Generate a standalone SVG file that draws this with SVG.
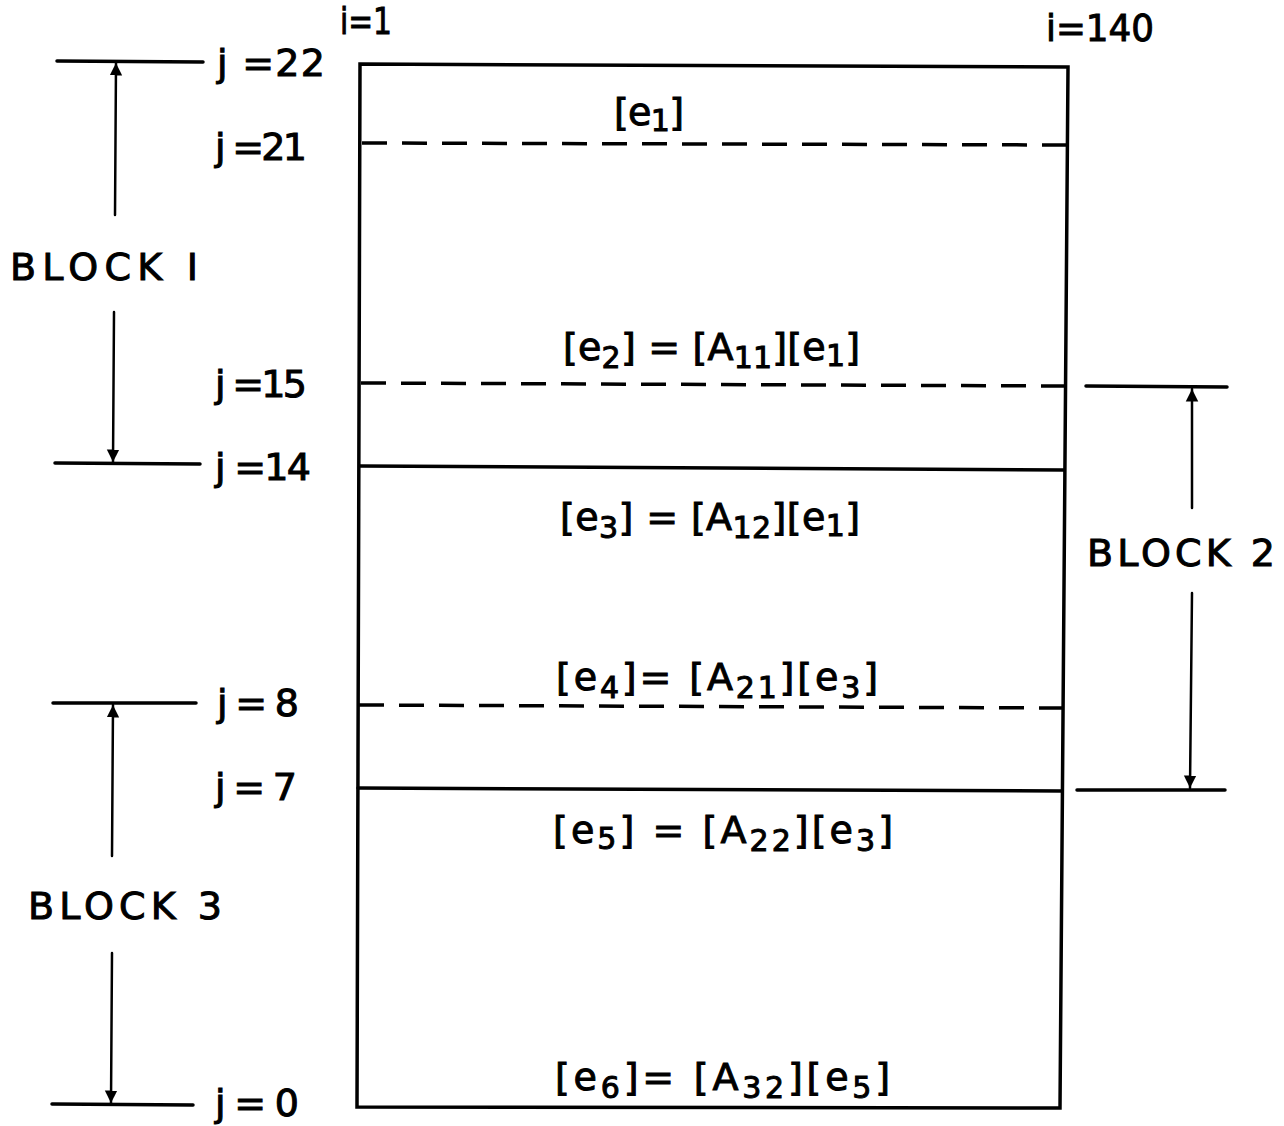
<svg xmlns="http://www.w3.org/2000/svg" width="1284" height="1126" viewBox="0 0 1284 1126">
<defs>
<style>
.t{font-family:"DejaVu Sans","Liberation Sans",sans-serif;font-size:38px;fill:#000;stroke:#000;stroke-width:1}
.f{font-family:"DejaVu Sans","Liberation Sans",sans-serif;font-size:38px;fill:#000;stroke:#000;stroke-width:1}
.s{font-size:30px}
.solid{stroke:#000;stroke-width:3.5;fill:none;stroke-linecap:round}
.thin{stroke:#000;stroke-width:2.5;fill:none;stroke-linecap:round}
.dash{stroke:#000;stroke-width:3.5;fill:none;stroke-dasharray:25 15}
</style>
<marker id="ah" viewBox="0 0 10 10" refX="10" refY="5" markerWidth="5" markerHeight="6" orient="auto-start-reverse" markerUnits="strokeWidth">
<path d="M0,0 L10,5 L0,10 z" fill="#000"/>
</marker>
</defs>
<rect width="1284" height="1126" fill="#fff"/>

<g id="grid">
<path class="solid" d="M360,64 L1068,67 L1060,1108 L357,1107 Z"/>
<line class="dash" x1="362" y1="143" x2="1066" y2="145"/>
<line class="dash" x1="361" y1="383" x2="1064" y2="386"/>
<line class="solid" x1="360" y1="466" x2="1064" y2="470"/>
<line class="dash" x1="359" y1="705" x2="1062" y2="708"/>
<line class="solid" x1="358" y1="788" x2="1062" y2="791"/>
</g>

<g id="ticks">
<line class="solid" x1="57" y1="61" x2="203" y2="62"/>
<line class="solid" x1="55" y1="463" x2="200" y2="464"/>
<line class="solid" x1="53" y1="703" x2="196" y2="703"/>
<line class="solid" x1="52" y1="1104" x2="193" y2="1105"/>
<line class="solid" x1="1086" y1="386" x2="1227" y2="387"/>
<line class="solid" x1="1077" y1="790" x2="1225" y2="790"/>
</g>

<g id="connectors">
<line class="thin" x1="115" y1="215" x2="116" y2="63" marker-end="url(#ah)"/>
<line class="thin" x1="114" y1="312" x2="113" y2="462" marker-end="url(#ah)"/>
<line class="thin" x1="112" y1="856" x2="113" y2="705" marker-end="url(#ah)"/>
<line class="thin" x1="112" y1="953" x2="111" y2="1103" marker-end="url(#ah)"/>
<line class="thin" x1="1192" y1="508" x2="1192" y2="389" marker-end="url(#ah)"/>
<line class="thin" x1="1192" y1="593" x2="1190" y2="788" marker-end="url(#ah)"/>
</g>

<g id="labels">
<text class="t" x="340" y="34" textLength="52" lengthAdjust="spacingAndGlyphs">i=1</text>
<text class="t" x="1046" y="41" textLength="108" lengthAdjust="spacingAndGlyphs">i=140</text>
<text class="t" x="217" y="76" textLength="108" lengthAdjust="spacing">j =22</text>
<text class="t" x="215" y="160" textLength="92" lengthAdjust="spacing">j =21</text>
<text class="t" x="215" y="397" textLength="92" lengthAdjust="spacing">j =15</text>
<text class="t" x="215" y="480" textLength="96" lengthAdjust="spacing">j =14</text>
<text class="t" x="217" y="716" textLength="82" lengthAdjust="spacing">j = 8</text>
<text class="t" x="215" y="800" textLength="82" lengthAdjust="spacing">j = 7</text>
<text class="t" x="215" y="1116" textLength="84" lengthAdjust="spacing">j = 0</text>
<text class="t" x="10" y="280" textLength="188" lengthAdjust="spacing">BLOCK  I</text>
<text class="t" x="28" y="919" textLength="194" lengthAdjust="spacing">BLOCK 3</text>
<text class="t" x="1087" y="566" textLength="188" lengthAdjust="spacing">BLOCK 2</text>
</g>

<g id="formulas">
<text class="f" x="614" y="125" textLength="70" lengthAdjust="spacing">[e<tspan class="s" dy="6">1</tspan><tspan dy="-6">]</tspan></text>
<text class="f" x="563" y="360" textLength="297" lengthAdjust="spacing">[e<tspan class="s" dy="8">2</tspan><tspan dy="-8">] = [A</tspan><tspan class="s" dy="8">11</tspan><tspan dy="-8">][e</tspan><tspan class="s" dy="6">1</tspan><tspan dy="-6">]</tspan></text>
<text class="f" x="560" y="530" textLength="300" lengthAdjust="spacing">[e<tspan class="s" dy="8">3</tspan><tspan dy="-8">] = [A</tspan><tspan class="s" dy="8">12</tspan><tspan dy="-8">][e</tspan><tspan class="s" dy="6">1</tspan><tspan dy="-6">]</tspan></text>
<text class="f" x="556" y="690" textLength="322" lengthAdjust="spacing">[e<tspan class="s" dy="8">4</tspan><tspan dy="-8">]= [A</tspan><tspan class="s" dy="8">21</tspan><tspan dy="-8">][e</tspan><tspan class="s" dy="8">3</tspan><tspan dy="-8">]</tspan></text>
<text class="f" x="553" y="843" textLength="340" lengthAdjust="spacing">[e<tspan class="s" dy="6">5</tspan><tspan dy="-6">] = [A</tspan><tspan class="s" dy="8">22</tspan><tspan dy="-8">][e</tspan><tspan class="s" dy="8">3</tspan><tspan dy="-8">]</tspan></text>
<text class="f" x="555" y="1090" textLength="335" lengthAdjust="spacing">[e<tspan class="s" dy="8">6</tspan><tspan dy="-8">]= [A</tspan><tspan class="s" dy="8">32</tspan><tspan dy="-8">][e</tspan><tspan class="s" dy="8">5</tspan><tspan dy="-8">]</tspan></text>
</g>
</svg>
